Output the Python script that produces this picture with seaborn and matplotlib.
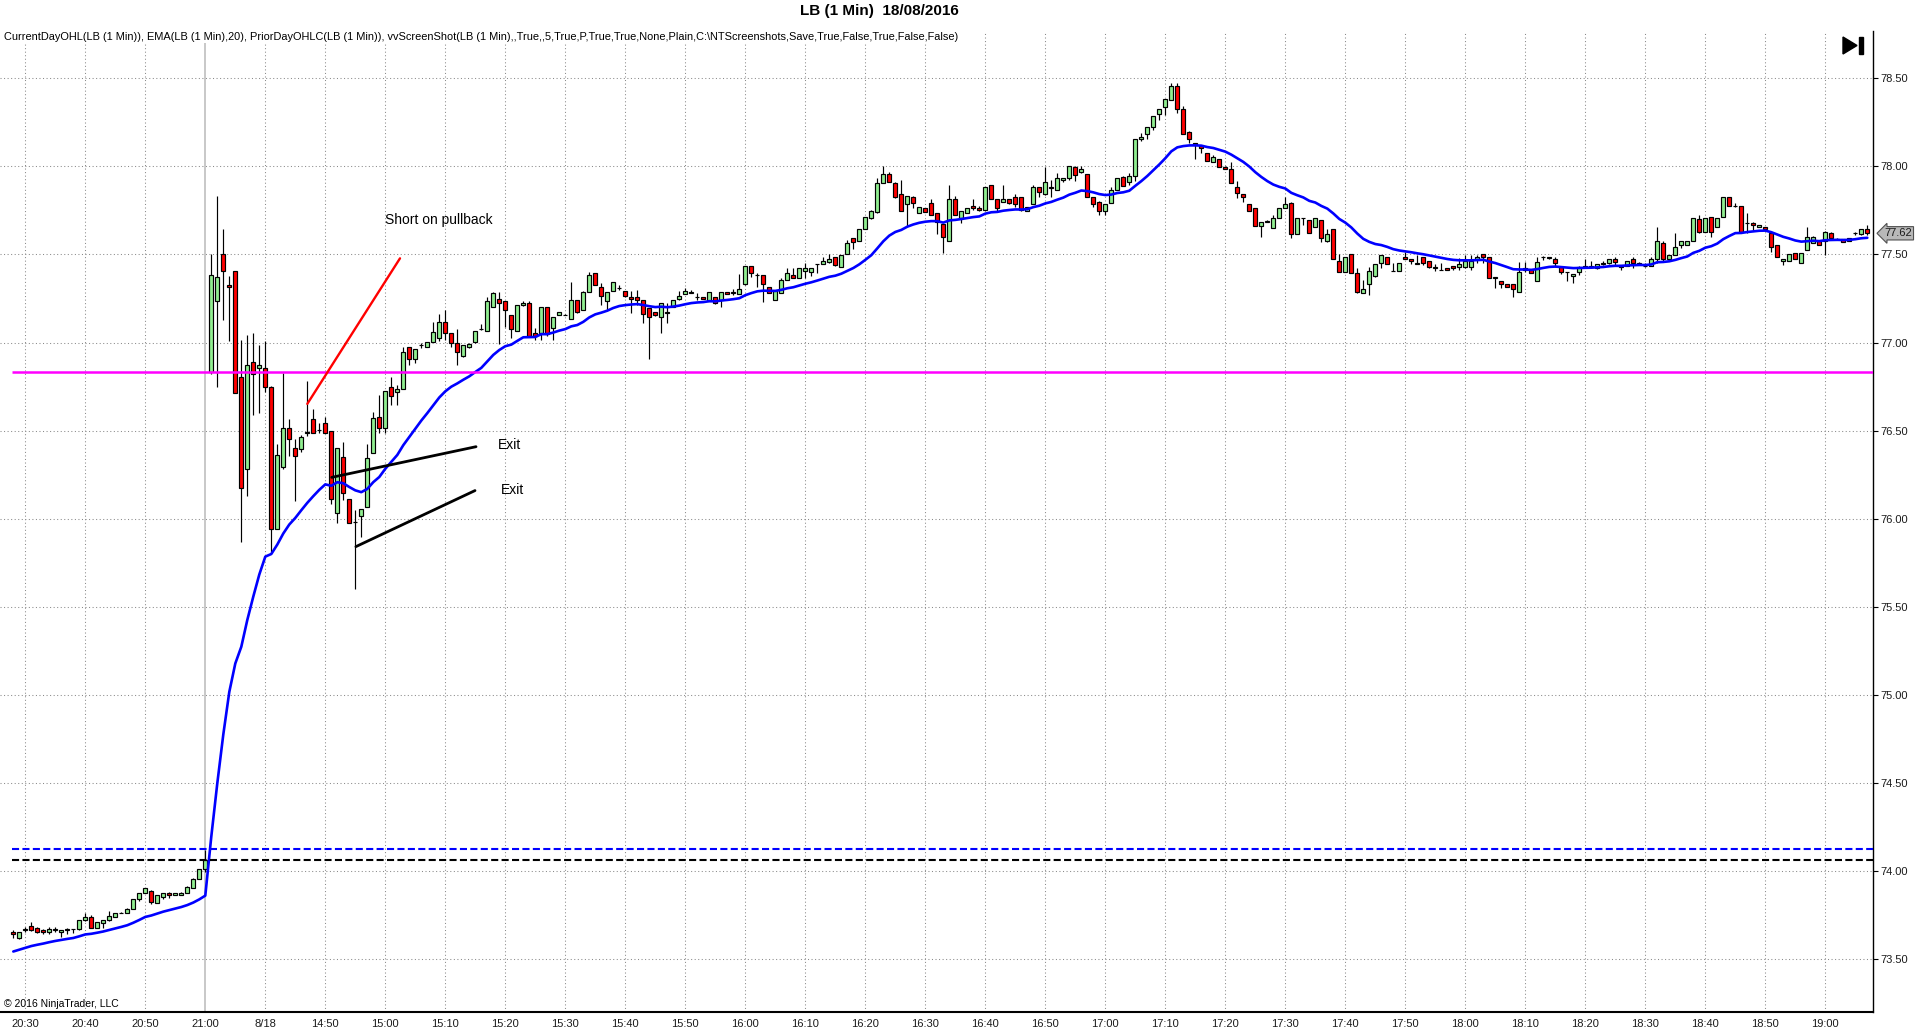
import numpy as np
import pandas as pd
import matplotlib
matplotlib.use("Agg")
import matplotlib.pyplot as plt
import seaborn as sns
from matplotlib.patches import Polygon, Rectangle

# ---------------------------------------------------------------- data
title = "LB (1 Min)  18/08/2016"
indicator_text = ("CurrentDayOHL(LB (1 Min)), EMA(LB (1 Min),20), PriorDayOHLC(LB (1 Min)), "
                  "vvScreenShot(LB (1 Min),,True,,5,True,P,True,True,None,Plain,"
                  "C:\\NTScreenshots,Save,True,False,True,False,False)")
copyright_text = "\u00a9 2016 NinjaTrader, LLC"

session1 = ("2016-08-17 20:28", "2016-08-17 21:00")
session2 = ("2016-08-18 14:31", "2016-08-18 19:07")

opens = [
    73.653, 73.620, 73.668, 73.691, 73.680, 73.667, 73.653, 73.669, 73.653, 73.668,
    73.670, 73.670, 73.721, 73.742, 73.680, 73.704, 73.721, 73.742, 73.764, 73.761,
    73.788, 73.841, 73.875, 73.890, 73.822, 73.852, 73.875, 73.864, 73.864, 73.875,
    73.903, 73.958, 74.011, 76.834, 77.235, 77.501, 77.327, 77.405, 76.803, 76.281,
    76.892, 76.853, 76.853, 76.750, 75.941, 76.293, 76.514, 76.400, 76.395, 76.488,
    76.565, 76.503, 76.542, 76.499, 76.031, 76.353, 76.111, 75.979, 76.016, 76.069,
    76.372, 76.580, 76.514, 76.750, 76.722, 76.735, 76.974, 76.909, 76.986, 76.974,
    77.002, 77.025, 77.114, 77.053, 77.000, 76.921, 76.977, 77.001, 77.077, 77.066,
    77.200, 77.249, 77.234, 77.158, 77.066, 77.211, 77.222, 77.052, 77.052, 77.200,
    77.081, 77.156, 77.157, 77.132, 77.240, 77.183, 77.289, 77.393, 77.313, 77.238,
    77.291, 77.310, 77.291, 77.260, 77.260, 77.240, 77.194, 77.171, 77.143, 77.170,
    77.200, 77.249, 77.274, 77.284, 77.259, 77.260, 77.236, 77.260, 77.242, 77.285,
    77.284, 77.274, 77.330, 77.433, 77.384, 77.383, 77.313, 77.242, 77.283, 77.355,
    77.384, 77.365, 77.408, 77.402, 77.445, 77.444, 77.459, 77.484, 77.431, 77.501,
    77.592, 77.577, 77.643, 77.705, 77.741, 77.904, 77.955, 77.904, 77.841, 77.785,
    77.824, 77.734, 77.762, 77.790, 77.734, 77.673, 77.578, 77.813, 77.705, 77.734,
    77.775, 77.762, 77.752, 77.894, 77.813, 77.800, 77.813, 77.824, 77.824, 77.747,
    77.785, 77.881, 77.841, 77.878, 77.866, 77.923, 77.932, 77.995, 77.970, 77.955,
    77.825, 77.800, 77.749, 77.791, 77.866, 77.942, 77.913, 77.946, 78.154, 78.182,
    78.222, 78.296, 78.335, 78.377, 78.456, 78.324, 78.197, 78.131, 78.116, 78.074,
    78.027, 78.040, 77.999, 77.984, 77.881, 77.843, 77.785, 77.762, 77.664, 77.683,
    77.652, 77.709, 77.762, 77.791, 77.615, 77.704, 77.694, 77.654, 77.694, 77.579,
    77.643, 77.460, 77.403, 77.501, 77.393, 77.284, 77.333, 77.380, 77.450, 77.484,
    77.406, 77.407, 77.484, 77.473, 77.447, 77.484, 77.460, 77.424, 77.411, 77.422,
    77.435, 77.431, 77.431, 77.431, 77.473, 77.501, 77.484, 77.368, 77.351, 77.332,
    77.332, 77.289, 77.421, 77.412, 77.351, 77.486, 77.482, 77.474, 77.431, 77.401,
    77.378, 77.402, 77.430, 77.430, 77.421, 77.448, 77.449, 77.472, 77.440, 77.436,
    77.472, 77.448, 77.435, 77.436, 77.474, 77.563, 77.472, 77.497, 77.553, 77.553,
    77.576, 77.699, 77.629, 77.711, 77.654, 77.711, 77.824, 77.774, 77.775, 77.676,
    77.681, 77.654, 77.654, 77.620, 77.554, 77.465, 77.465, 77.510, 77.454, 77.526,
    77.567, 77.578, 77.578, 77.624, 77.587, 77.588, 77.578, 77.619, 77.614, 77.643,
]
highs = [
    73.666, 73.655, 73.685, 73.710, 73.683, 73.672, 73.685, 73.685, 73.668, 73.680,
    73.671, 73.722, 73.761, 73.750, 73.711, 73.724, 73.776, 73.762, 73.766, 73.790,
    73.842, 73.876, 73.904, 73.891, 73.864, 73.876, 73.882, 73.876, 73.882, 73.914,
    73.959, 74.012, 74.120, 77.501, 77.834, 77.645, 77.375, 77.406, 77.015, 77.044,
    77.053, 76.987, 77.006, 76.751, 76.425, 76.826, 76.565, 76.451, 76.476, 76.784,
    76.622, 76.542, 76.580, 76.500, 76.400, 76.433, 76.112, 76.050, 76.055, 76.425,
    76.608, 76.703, 76.727, 76.803, 76.760, 76.977, 76.975, 76.963, 77.000, 77.003,
    77.119, 77.163, 77.185, 77.054, 77.076, 76.988, 77.000, 77.067, 77.106, 77.261,
    77.285, 77.289, 77.235, 77.159, 77.212, 77.236, 77.236, 77.080, 77.201, 77.201,
    77.144, 77.172, 77.162, 77.342, 77.241, 77.290, 77.402, 77.394, 77.336, 77.288,
    77.343, 77.325, 77.292, 77.295, 77.298, 77.241, 77.195, 77.172, 77.225, 77.226,
    77.241, 77.293, 77.311, 77.298, 77.279, 77.261, 77.286, 77.261, 77.286, 77.286,
    77.302, 77.387, 77.434, 77.434, 77.397, 77.384, 77.314, 77.298, 77.365, 77.425,
    77.421, 77.422, 77.450, 77.422, 77.447, 77.484, 77.501, 77.485, 77.498, 77.582,
    77.593, 77.644, 77.712, 77.752, 77.932, 78.002, 77.970, 77.913, 77.923, 77.833,
    77.832, 77.772, 77.763, 77.813, 77.735, 77.674, 77.894, 77.832, 77.748, 77.763,
    77.813, 77.775, 77.882, 77.895, 77.814, 77.894, 77.814, 77.841, 77.825, 77.772,
    77.894, 77.882, 77.998, 77.923, 77.961, 77.933, 78.002, 78.000, 78.002, 77.956,
    77.826, 77.801, 77.786, 77.885, 77.933, 77.943, 77.961, 78.155, 78.192, 78.223,
    78.287, 78.325, 78.382, 78.472, 78.472, 78.343, 78.198, 78.132, 78.117, 78.075,
    78.065, 78.041, 78.000, 78.027, 77.914, 77.844, 77.786, 77.763, 77.684, 77.693,
    77.724, 77.763, 77.828, 77.800, 77.706, 77.706, 77.695, 77.706, 77.695, 77.643,
    77.644, 77.501, 77.485, 77.502, 77.425, 77.355, 77.431, 77.445, 77.498, 77.485,
    77.450, 77.451, 77.516, 77.474, 77.497, 77.485, 77.461, 77.444, 77.450, 77.423,
    77.436, 77.478, 77.497, 77.497, 77.497, 77.502, 77.485, 77.370, 77.352, 77.333,
    77.333, 77.459, 77.459, 77.413, 77.487, 77.490, 77.487, 77.487, 77.432, 77.403,
    77.390, 77.432, 77.473, 77.460, 77.445, 77.463, 77.473, 77.488, 77.441, 77.464,
    77.487, 77.458, 77.450, 77.487, 77.654, 77.578, 77.498, 77.620, 77.577, 77.577,
    77.706, 77.724, 77.706, 77.712, 77.706, 77.825, 77.825, 77.790, 77.776, 77.734,
    77.682, 77.668, 77.655, 77.621, 77.555, 77.475, 77.502, 77.511, 77.511, 77.654,
    77.602, 77.579, 77.631, 77.625, 77.595, 77.589, 77.593, 77.630, 77.644, 77.667,
]
lows = [
    73.620, 73.618, 73.657, 73.661, 73.650, 73.642, 73.642, 73.657, 73.629, 73.642,
    73.650, 73.668, 73.720, 73.680, 73.679, 73.680, 73.720, 73.740, 73.763, 73.760,
    73.787, 73.830, 73.874, 73.815, 73.821, 73.840, 73.850, 73.863, 73.863, 73.874,
    73.902, 73.954, 73.998, 76.822, 76.750, 77.129, 77.011, 76.711, 75.871, 76.130,
    76.589, 76.600, 76.722, 75.814, 75.940, 76.280, 76.357, 76.103, 76.381, 76.472,
    76.485, 76.485, 76.485, 76.083, 75.975, 76.107, 75.977, 75.600, 75.899, 76.068,
    76.371, 76.486, 76.486, 76.646, 76.646, 76.734, 76.873, 76.883, 76.970, 76.973,
    77.001, 77.006, 77.015, 76.977, 76.870, 76.920, 76.970, 76.995, 77.070, 77.065,
    77.199, 76.990, 77.090, 77.024, 77.065, 77.210, 77.038, 77.015, 77.015, 77.040,
    77.015, 77.155, 77.154, 77.131, 77.170, 77.182, 77.288, 77.324, 77.213, 77.187,
    77.290, 77.298, 77.261, 77.170, 77.211, 77.113, 76.905, 77.153, 77.052, 77.113,
    77.199, 77.242, 77.273, 77.279, 77.242, 77.248, 77.235, 77.221, 77.204, 77.273,
    77.270, 77.273, 77.329, 77.370, 77.317, 77.232, 77.284, 77.241, 77.282, 77.354,
    77.368, 77.364, 77.365, 77.378, 77.393, 77.443, 77.450, 77.435, 77.430, 77.500,
    77.531, 77.576, 77.642, 77.700, 77.736, 77.903, 77.912, 77.823, 77.748, 77.662,
    77.762, 77.733, 77.742, 77.721, 77.614, 77.510, 77.577, 77.723, 77.681, 77.733,
    77.752, 77.749, 77.751, 77.812, 77.749, 77.799, 77.789, 77.771, 77.747, 77.746,
    77.784, 77.828, 77.840, 77.828, 77.865, 77.913, 77.923, 77.919, 77.961, 77.827,
    77.772, 77.721, 77.721, 77.790, 77.865, 77.890, 77.895, 77.919, 78.141, 78.154,
    78.207, 78.264, 78.292, 78.376, 78.301, 78.183, 78.131, 78.040, 78.074, 78.032,
    78.023, 77.998, 77.983, 77.903, 77.823, 77.800, 77.748, 77.663, 77.601, 77.682,
    77.651, 77.708, 77.761, 77.592, 77.614, 77.668, 77.619, 77.653, 77.573, 77.573,
    77.472, 77.402, 77.402, 77.392, 77.284, 77.283, 77.270, 77.370, 77.422, 77.443,
    77.405, 77.406, 77.472, 77.444, 77.446, 77.440, 77.425, 77.406, 77.410, 77.411,
    77.412, 77.412, 77.422, 77.412, 77.450, 77.450, 77.364, 77.312, 77.308, 77.316,
    77.260, 77.288, 77.400, 77.392, 77.350, 77.470, 77.476, 77.430, 77.389, 77.351,
    77.340, 77.383, 77.429, 77.429, 77.420, 77.440, 77.448, 77.440, 77.412, 77.435,
    77.421, 77.440, 77.430, 77.435, 77.449, 77.459, 77.471, 77.496, 77.535, 77.552,
    77.575, 77.620, 77.628, 77.601, 77.653, 77.710, 77.774, 77.772, 77.629, 77.620,
    77.639, 77.653, 77.642, 77.516, 77.487, 77.440, 77.464, 77.472, 77.453, 77.525,
    77.566, 77.553, 77.497, 77.594, 77.580, 77.572, 77.577, 77.610, 77.613, 77.610,
]
closes = [
    73.642, 73.653, 73.670, 73.667, 73.653, 73.653, 73.672, 73.670, 73.667, 73.670,
    73.670, 73.721, 73.742, 73.680, 73.710, 73.723, 73.746, 73.761, 73.765, 73.784,
    73.841, 73.875, 73.903, 73.826, 73.863, 73.875, 73.864, 73.875, 73.875, 73.913,
    73.958, 74.011, 74.064, 77.382, 77.371, 77.405, 77.314, 76.712, 76.173, 76.871,
    76.822, 76.871, 76.750, 75.941, 76.363, 76.514, 76.451, 76.359, 76.463, 76.490,
    76.489, 76.505, 76.489, 76.111, 76.400, 76.145, 75.978, 75.981, 76.054, 76.344,
    76.574, 76.514, 76.726, 76.694, 76.737, 76.945, 76.909, 76.962, 76.988, 77.002,
    77.062, 77.114, 77.053, 77.000, 76.945, 76.987, 76.992, 77.066, 77.079, 77.238,
    77.284, 77.222, 77.183, 77.075, 77.211, 77.224, 77.039, 77.039, 77.200, 77.049,
    77.143, 77.171, 77.159, 77.240, 77.171, 77.289, 77.381, 77.325, 77.262, 77.287,
    77.342, 77.312, 77.262, 77.249, 77.240, 77.162, 77.143, 77.154, 77.224, 77.172,
    77.240, 77.262, 77.291, 77.286, 77.261, 77.249, 77.285, 77.222, 77.285, 77.274,
    77.286, 77.302, 77.433, 77.393, 77.386, 77.332, 77.284, 77.290, 77.355, 77.393,
    77.369, 77.421, 77.425, 77.421, 77.446, 77.463, 77.474, 77.440, 77.497, 77.563,
    77.573, 77.643, 77.711, 77.747, 77.904, 77.955, 77.913, 77.824, 77.749, 77.832,
    77.790, 77.771, 77.743, 77.722, 77.686, 77.601, 77.813, 77.724, 77.747, 77.762,
    77.762, 77.752, 77.881, 77.813, 77.762, 77.813, 77.790, 77.785, 77.752, 77.771,
    77.881, 77.853, 77.913, 77.880, 77.932, 77.932, 78.000, 77.951, 77.985, 77.828,
    77.785, 77.749, 77.785, 77.866, 77.932, 77.891, 77.946, 78.154, 78.169, 78.222,
    78.286, 78.324, 78.381, 78.456, 78.324, 78.184, 78.154, 78.122, 78.103, 78.033,
    78.052, 77.999, 77.984, 77.904, 77.851, 77.828, 77.749, 77.664, 77.683, 77.692,
    77.709, 77.762, 77.785, 77.615, 77.705, 77.706, 77.620, 77.705, 77.592, 77.615,
    77.473, 77.403, 77.484, 77.393, 77.289, 77.303, 77.407, 77.444, 77.497, 77.444,
    77.408, 77.450, 77.473, 77.463, 77.449, 77.450, 77.431, 77.426, 77.413, 77.412,
    77.422, 77.444, 77.465, 77.465, 77.484, 77.484, 77.365, 77.370, 77.332, 77.317,
    77.302, 77.402, 77.412, 77.393, 77.459, 77.487, 77.484, 77.449, 77.402, 77.403,
    77.389, 77.431, 77.432, 77.432, 77.444, 77.450, 77.472, 77.459, 77.431, 77.463,
    77.453, 77.450, 77.437, 77.474, 77.576, 77.472, 77.497, 77.544, 77.576, 77.576,
    77.705, 77.630, 77.705, 77.629, 77.705, 77.824, 77.775, 77.776, 77.630, 77.678,
    77.667, 77.667, 77.643, 77.541, 77.488, 77.474, 77.501, 77.473, 77.510, 77.601,
    77.601, 77.554, 77.630, 77.595, 77.589, 77.573, 77.592, 77.621, 77.643, 77.620,
]

ema_period = 20
ema_seed = 73.534            # EMA value just before the first visible bar
current_day_open = 76.834    # magenta line
prior_day_high = 74.126      # blue dashed line
prior_day_close = 74.064     # black dashed line
price_ticks = [73.5, 74.0, 74.5, 75.0, 75.5, 76.0, 76.5, 77.0, 77.5, 78.0, 78.5]

# hand-drawn annotations (bar index within the chart, price)
short_line_x = [47.0, 62.45]
short_line_y = [76.652, 77.478]
exit1_line_x = [51.07, 75.12]
exit1_line_y = [76.235, 76.409]
exit2_line_x = [55.10, 74.95]
exit2_line_y = [75.842, 76.160]
short_label = ("Short on pullback", 59.95, 77.696)
exit1_label = ("Exit", 78.7, 76.419)
exit2_label = ("Exit", 79.3, 76.163)

# ---------------------------------------------------------------- prep
sns.set_theme(style="white")
plt.rcParams["font.family"] = ["Liberation Sans", "DejaVu Sans"]

times = list(pd.date_range(*session1, freq="min")) + list(pd.date_range(*session2, freq="min"))
n = len(closes)
first_idx = -2                      # first visible bar is two bars before the 20:30 bar
x = np.arange(n) + first_idx
df = pd.DataFrame({"x": x, "time": times[:n], "open": opens, "high": highs,
                   "low": lows, "close": closes})
df["ema"] = (pd.Series([ema_seed] + closes).ewm(span=ema_period, adjust=False)
             .mean().iloc[1:].to_numpy())
up = df["close"] >= df["open"]

# ticks every 10 minutes; first tick of a new session shows the date
tick_pos, tick_lab = [], []
prev_day = None
for xi, t in zip(df["x"], df["time"]):
    if t.minute % 10 == 0:
        if prev_day is not None and t.day != prev_day:
            tick_lab.append(f"{t.month}/{t.day}")
        else:
            tick_lab.append(t.strftime("%H:%M"))
        tick_pos.append(xi)
        prev_day = t.day
session_break_x = df["x"][df["time"].dt.day == df["time"].iloc[0].day].iloc[-1]

# ---------------------------------------------------------------- figure
W, H = 1920, 1034
fig = plt.figure(figsize=(W / 100, H / 100), dpi=100)
fig.patch.set_facecolor("white")
ax = fig.add_axes([0, 22 / H, 1873 / W, 981 / H])
ax.set_facecolor("white")

ax.set_xlim(-4.217, 307.95)
ax.set_ylim(73.201, 78.768)

# grid
grid_kw = dict(color="#8a8a8a", linewidth=0.75, linestyle=(0, (1, 2.4)), zorder=0.5)
for p in price_ticks:
    ax.axhline(p, **grid_kw)
for tp in tick_pos:
    if tp != session_break_x:
        ax.axvline(tp, **grid_kw)
ax.axvline(session_break_x, color="#c4c4c4", linewidth=1.3, zorder=0.6)

# candles
ax.vlines(df["x"], df["low"], df["high"], color="black", linewidth=0.85, zorder=2)
body_bottom = np.minimum(df["open"], df["close"])
body_height = np.abs(df["close"] - df["open"])
ax.bar(df["x"], body_height, bottom=body_bottom, width=0.62,
       color=np.where(up, "#90ee90", "#ff0000"), edgecolor="black",
       linewidth=0.85, zorder=3)

# EMA
sns.lineplot(data=df, x="x", y="ema", color="#0000ff", linewidth=1.9,
             ax=ax, zorder=4, legend=False)

# session levels
x_lo, x_hi = df["x"].iloc[0] - 0.3, df["x"].iloc[-1] + 1.0
ax.hlines(current_day_open, x_lo, x_hi, color="#ff00ff", linewidth=1.8, zorder=5)
ax.hlines(prior_day_high, x_lo, x_hi, color="#0000ff", linewidth=1.5,
          linestyles=(0, (3.4, 1.6)), zorder=5)
ax.hlines(prior_day_close, x_lo, x_hi, color="#000000", linewidth=1.5,
          linestyles=(0, (3.4, 1.6)), zorder=5)

# annotations
ax.plot(short_line_x, short_line_y, color="#ff0000", linewidth=1.7, zorder=6)
ax.plot(exit1_line_x, exit1_line_y, color="black", linewidth=2.0, zorder=6)
ax.plot(exit2_line_x, exit2_line_y, color="black", linewidth=2.0, zorder=6)
for txt, tx, ty in (short_label, exit1_label, exit2_label):
    ax.text(tx, ty, txt, fontsize=10, color="black", ha="left", va="center", zorder=7)

# axes styling
for side in ("left", "top"):
    ax.spines[side].set_visible(False)
ax.spines["right"].set_color("black")
ax.spines["right"].set_linewidth(1.0)
ax.spines["bottom"].set_color("black")
ax.spines["bottom"].set_linewidth(1.5)

ax.yaxis.tick_right()
ax.set_yticks(price_ticks)
ax.set_yticklabels([f"{p:.2f}" for p in price_ticks])
ax.tick_params(axis="y", direction="out", length=3.5, width=0.8, color="black",
               labelsize=8, pad=1.5, labelcolor="#1a1a1a", left=False, right=True)
ax.set_xticks(tick_pos)
ax.set_xticklabels(tick_lab)
ax.tick_params(axis="x", length=0, labelsize=8, pad=5, labelcolor="#1a1a1a")
ax.set_xlabel("")
ax.set_ylabel("")

# last price marker
ax.annotate(f"{closes[-1]:.2f}", xy=(1, closes[-1]), xycoords=("axes fraction", "data"),
            xytext=(8, 0), textcoords="offset points", ha="left", va="center",
            fontsize=8, color="#1a1a1a", annotation_clip=False,
            bbox=dict(boxstyle="larrow,pad=0.15", fc="#b8b8b8", ec="#505050", lw=0.8))

# texts
fig.text(879 / W, 1 - 11 / H, title, ha="center", va="center",
         fontsize=11, fontweight="bold", color="black")
fig.text(4 / W, 1 - 37 / H, indicator_text, ha="left", va="center",
         fontsize=7.9, color="black",
         bbox=dict(fc="white", ec="none", pad=0.5))
fig.text(4 / W, 1 - 1004 / H, copyright_text, ha="left", va="center",
         fontsize=7.5, color="black")

# "go to end" icon
def fx(px):
    return px / W

def fy(py):
    return 1 - py / H

fig.add_artist(Polygon([(fx(1843), fy(37)), (fx(1843), fy(54)), (fx(1857), fy(45.5))],
                       closed=True, transform=fig.transFigure, fc="black", ec="black"))
fig.add_artist(Rectangle((fx(1858.5), fy(54)), fx(1862.5) - fx(1858.5), fy(37) - fy(54),
                         transform=fig.transFigure, fc="black", ec="black"))

fig.savefig("out.png", dpi=100, facecolor="white")
